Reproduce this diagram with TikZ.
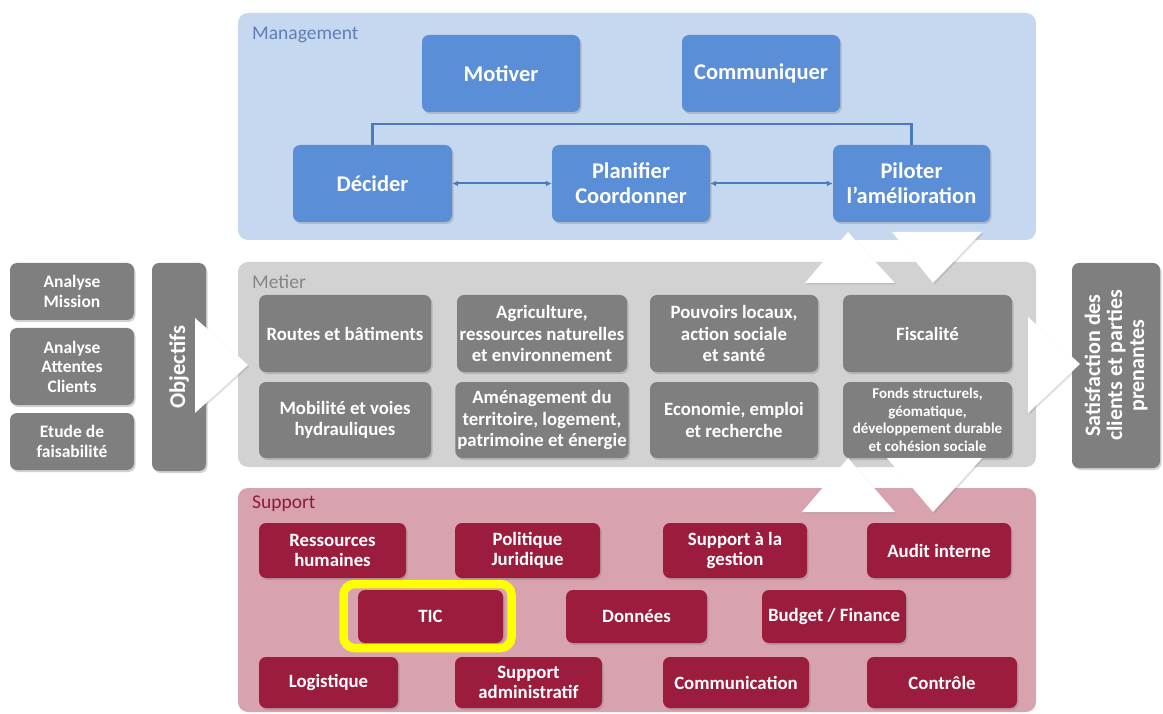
\documentclass[tikz,border=0pt]{standalone}
\usepackage{fontspec}
\setmainfont{Carlito}
\usetikzlibrary{arrows.meta,shadows}

\definecolor{mgmtbg}{HTML}{C6D8EF}
\definecolor{mgmtbox}{HTML}{5A8ED6}
\definecolor{mgmtline}{HTML}{4B7BBE}
\definecolor{mgmtlabel}{HTML}{5F7FB3}
\definecolor{metbg}{HTML}{D2D2D2}
\definecolor{metbox}{HTML}{7F7F7F}
\definecolor{metlabel}{HTML}{858585}
\definecolor{suppbg}{HTML}{D8A2AE}
\definecolor{suppbox}{HTML}{9B1C3C}
\definecolor{supplabel}{HTML}{8C1C3A}
\definecolor{hilite}{HTML}{FFFF00}

\tikzset{
  panel/.style={rounded corners=10pt, draw=none},
  paneltitle/.style={anchor=west, inner sep=0pt, font=\fontsize{19.5}{21}\selectfont},
  basebox/.style={rounded corners=7pt, inner sep=2pt, align=center, text=white,
    drop shadow={shadow xshift=1.5pt, shadow yshift=-2pt, opacity=.35}},
  mbox/.style={basebox, fill=mgmtbox, font=\fontsize{22.5}{25}\selectfont\bfseries},
  gbox/.style={basebox, fill=metbox, font=\fontsize{18.8}{21.5}\selectfont\bfseries},
  sbox/.style={basebox, fill=suppbox, font=\fontsize{18.8}{20.5}\selectfont\bfseries},
  sidebox/.style={basebox, fill=metbox, font=\fontsize{17.5}{19.5}\selectfont\bfseries},
  conn/.style={draw=mgmtline, line width=2.2pt},
  twoway/.style={draw=mgmtline, line width=2pt, {Latex[length=6pt,width=6pt]}-{Latex[length=6pt,width=6pt]}},
  chevron/.style={fill=white, draw=none, drop shadow={shadow xshift=1.5pt, shadow yshift=-1.5pt, opacity=.25}},
  hibox/.style={draw=hilite, line width=8.5pt, rounded corners=11pt}
}

\begin{document}
\begin{tikzpicture}[x=1pt, y=-1pt]
  \useasboundingbox (0,0) rectangle (1163,714);
  \fill[white] (0,0) rectangle (1163,714);

  % ---- three process layers ----
  \path[panel, fill=mgmtbg] (238,13) rectangle (1036,240);
  \path[panel, fill=metbg]  (238,262) rectangle (1036,467);
  \path[panel, fill=suppbg] (238,488) rectangle (1036,712);

  \node[paneltitle, text=mgmtlabel] (tmgmt) at (252,35) {Management};
  \node[paneltitle, text=metlabel]  (tmet)  at (252,282) {Metier};
  \node[paneltitle, text=supplabel] (tsupp) at (252,504) {Support};

  % ---- management ----
  \node[mbox, minimum width=158pt, minimum height=77pt] (motiver) at (501,73.5) {Motiver};
  \node[mbox, minimum width=158pt, minimum height=77pt] (comm)    at (761,73.5) {Communiquer};
  \node[mbox, minimum width=159pt, minimum height=77pt] (decider) at (372.5,183.5) {Décider};
  \node[mbox, minimum width=158pt, minimum height=77pt] (planif)  at (631,183.5) {Planifier\\Coordonner};
  \node[mbox, minimum width=157pt, minimum height=77pt] (piloter) at (911.5,183.5) {Piloter\\l'amélioration};

  \coordinate (bus) at (0,124);
  \draw[conn] (decider.north) -- (decider.north |- bus) -- (piloter.north |- bus) -- (piloter.north);
  \draw[twoway] (decider.east) -- (planif.west);
  \draw[twoway] (planif.east) -- (piloter.west);

  % ---- metier ----
  \node[gbox, minimum width=172pt, minimum height=77pt] (routes) at (345,333.5) {Routes et bâtiments};
  \node[gbox, minimum width=170pt, minimum height=77pt] (agri)   at (542,333.5) {Agriculture,\\ressources naturelles\\et environnement};
  \node[gbox, minimum width=168pt, minimum height=77pt] (pouv)   at (734,333.5) {Pouvoirs locaux,\\action sociale\\et santé};
  \node[gbox, minimum width=169pt, minimum height=77pt] (fisc)   at (927.5,333.5) {Fiscalité};
  \node[gbox, minimum width=172pt, minimum height=76pt] (mobil)  at (345,420) {Mobilité et voies\\hydrauliques};
  \node[gbox, minimum width=170pt, minimum height=76pt] (amen)   at (542,420) {Aménagement du\\territoire, logement,\\patrimoine et énergie};
  \node[gbox, minimum width=168pt, minimum height=76pt] (econ)   at (734,420) {Economie, emploi\\et recherche};
  \node[gbox, minimum width=169pt, minimum height=76pt, font=\fontsize{15}{17.5}\selectfont\bfseries] (fonds) at (927.5,420)
    {Fonds structurels,\\géomatique,\\développement durable\\et cohésion sociale};

  % ---- inputs and outcome ----
  \node[sidebox, minimum width=124pt, minimum height=57pt] (mission)  at (72,291.5) {Analyse\\Mission};
  \node[sidebox, minimum width=124pt, minimum height=77pt] (attentes) at (72,366.5) {Analyse\\Attentes\\Clients};
  \node[sidebox, minimum width=124pt, minimum height=57pt] (etude)    at (72,441.5) {Etude de\\faisabilité};
  \node[basebox, fill=metbox, minimum width=54pt, minimum height=208pt] (objbox) at (179,367) {};
  \node[rotate=90, text=white, font=\fontsize{22.5}{25}\selectfont\bfseries] (objtxt) at (objbox.center) {Objectifs};
  \node[basebox, fill=metbox, minimum width=88pt, minimum height=205pt] (satbox) at (1116,365.5) {};
  \node[rotate=90, text=white, align=center, font=\fontsize{22}{22}\selectfont\bfseries] (sattxt) at (satbox.center)
    {Satisfaction des\\clients et parties\\prenantes};

  % ---- flow chevrons ----
  \path[chevron] (195,318) -- (195,413) -- (248,365) -- cycle;
  \path[chevron] (1028,317) -- (1028,413) -- (1080,364) -- cycle;
  \path[chevron] (848,232) -- (895,283) -- (805,283) -- cycle;
  \path[chevron] (892,232) -- (982,232) -- (933,283) -- cycle;
  \path[chevron] (848,458) -- (895,512) -- (802,512) -- cycle;
  \path[chevron] (887,458) -- (982,458) -- (933,512) -- cycle;

  % ---- support ----
  \node[sbox, minimum width=147pt, minimum height=55pt] (rh)     at (332.5,550.5) {Ressources\\humaines};
  \node[sbox, minimum width=145pt, minimum height=55pt] (polit)  at (527.5,550.5) {Politique\\Juridique};
  \node[sbox, minimum width=144pt, minimum height=55pt] (suppg)  at (735,550.5) {Support à la\\gestion};
  \node[sbox, minimum width=144pt, minimum height=55pt] (audit)  at (939,550.5) {Audit interne};
  \node[sbox, minimum width=145pt, minimum height=53pt] (tic)    at (430.5,616.5) {TIC};
  \node[sbox, minimum width=141pt, minimum height=53pt] (donnees) at (636.5,616.5) {Données};
  \node[sbox, minimum width=144pt, minimum height=53pt] (budget) at (834,616.5) {Budget / Finance};
  \node[sbox, minimum width=139pt, minimum height=51pt] (logist) at (328.5,682.5) {Logistique};
  \node[sbox, minimum width=147pt, minimum height=51pt] (suppa)  at (528.5,682.5) {Support\\administratif};
  \node[sbox, minimum width=146pt, minimum height=51pt] (commu)  at (736,682.5) {Communication};
  \node[sbox, minimum width=150pt, minimum height=51pt] (contr)  at (942,682.5) {Contrôle};

  % highlight frame around TIC
  \draw[hibox] (343.5,584) rectangle (511.5,648);
\end{tikzpicture}
\end{document}
